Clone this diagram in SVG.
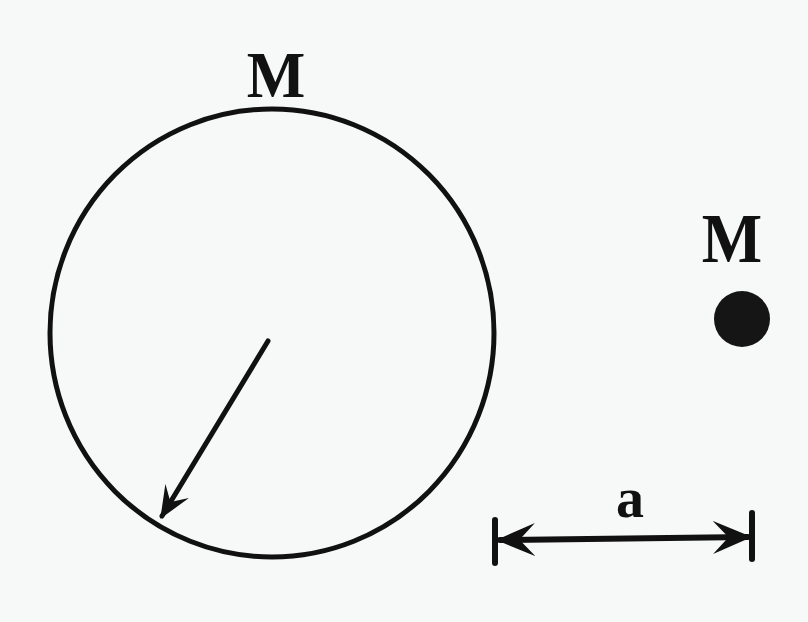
<svg xmlns="http://www.w3.org/2000/svg" width="808" height="622" viewBox="0 0 808 622">
<style>
.lbl{font-family:"Liberation Serif","DejaVu Serif",serif;font-weight:bold;fill:#111;text-anchor:middle}
.ln{stroke:#111;fill:none;stroke-linecap:round}
</style>
<defs>
<marker id="ah" viewBox="0 0 10 10" refX="9" refY="5" markerWidth="6.5" markerHeight="5.5" orient="auto-start-reverse" markerUnits="strokeWidth" preserveAspectRatio="none">
<path d="M0,0 L10,5 L0,10 L4,5 Z" fill="#111"/>
</marker>
</defs>
<rect width="808" height="622" fill="#f7f8f8"/>
<g id="sphere">
<ellipse cx="272" cy="333" rx="222" ry="224" class="ln" stroke-width="5"/>
<text class="lbl" x="276" y="97" font-size="62" transform="translate(276,97) scale(1,1.05) translate(-276,-97)">M</text>
</g>
<g id="point">
<circle cx="742" cy="319" r="28" fill="#151515"/>
<text class="lbl" x="732" y="262" font-size="64" transform="translate(732,262) scale(1,1.1) translate(-732,-262)">M</text>
</g>
<g id="connectors">
<line x1="268" y1="341" x2="162" y2="516" class="ln" stroke-width="5" marker-end="url(#ah)"/>
<line x1="495" y1="520" x2="495" y2="563" class="ln" stroke-width="6"/>
<line x1="752" y1="513" x2="752" y2="559" class="ln" stroke-width="6"/>
<line x1="500" y1="540" x2="748" y2="537" class="ln" stroke-width="6" marker-start="url(#ah)" marker-end="url(#ah)"/>
</g>
<g id="dim-label">
<text class="lbl" x="630" y="517" font-size="56">a</text>
</g>
</svg>
